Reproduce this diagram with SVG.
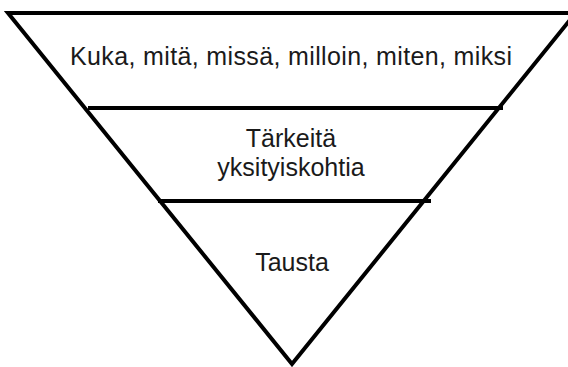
<svg xmlns="http://www.w3.org/2000/svg" width="568" height="367" viewBox="0 0 568 367">
<style>
.ln{stroke:#000;stroke-width:4;fill:none;stroke-linecap:butt;stroke-linejoin:miter}
.t{font-family:"Liberation Sans",Arial,sans-serif;font-size:25px;fill:#1a1a1a;text-anchor:middle}
</style>
<rect width="568" height="367" fill="#fff"/>
<g id="connectors">
<polyline class="ln" points="576,13 8,13 292,364 578,10"/>
<line class="ln" x1="88" y1="108" x2="503" y2="108"/>
<line class="ln" x1="158" y1="201" x2="431" y2="201"/>
</g>
<g id="top"><text class="t" x="291" y="65" textLength="442" lengthAdjust="spacing">Kuka, mitä, missä, milloin, miten, miksi</text></g>
<g id="middle"><text class="t" x="291" y="147">Tärkeitä</text><text class="t" x="291" y="176">yksityiskohtia</text></g>
<g id="bottom"><text class="t" x="292" y="271">Tausta</text></g>
</svg>
